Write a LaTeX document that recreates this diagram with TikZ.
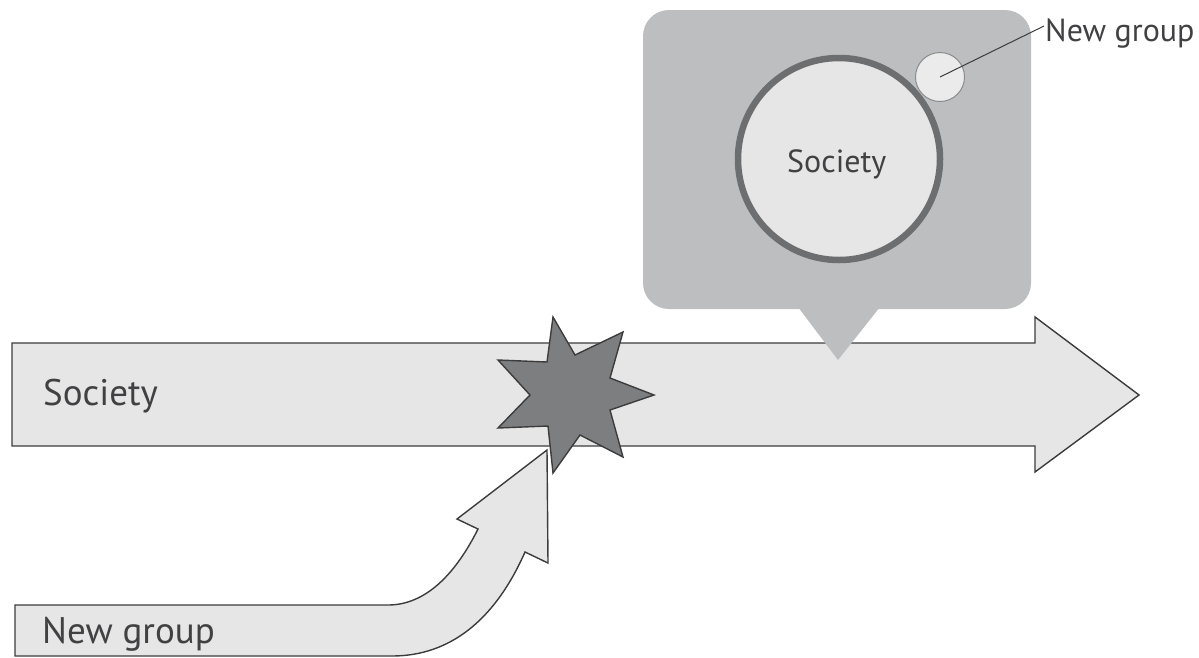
\documentclass[tikz,border=0pt]{standalone}
\usepackage{fontspec}
\setmainfont{PT Sans}
\definecolor{arrowfill}{HTML}{E6E6E6}
\definecolor{edge}{HTML}{3C3C3C}
\definecolor{bubble}{HTML}{BCBEC0}
\definecolor{ring}{HTML}{6D6E70}
\definecolor{starfill}{HTML}{7D7E80}
\definecolor{txt}{HTML}{414042}
\begin{document}
\begin{tikzpicture}[x=1pt,y=-1pt,
  arrowshape/.style={fill=arrowfill,draw=edge,line width=1.4pt,line join=miter},
  lbl/.style={anchor=base west,inner sep=0pt,text=txt},
  big/.style={font=\fontsize{37}{40}\selectfont},
  small/.style={font=\fontsize{32}{36}\selectfont}]
\useasboundingbox (0,0) rectangle (1199,657);
% main arrow
\draw[arrowshape] (12,343) -- (1035,343) -- (1035,317) -- (1139,395) -- (1035,472) -- (1035,446) -- (12,446) -- cycle;
% new group arrow
\draw[arrowshape] (547,450) -- (457,519) -- (478,529)
  .. controls (455,575) and (425,605) .. (388,605) -- (15,605) -- (15,656) -- (392,656)
  .. controls (450,656) and (495,620) .. (525,552) -- (548,563) -- cycle;
% star
\draw[fill=starfill,draw=edge,line width=1.4pt,line join=miter]
  (553,317) -- (575,355) -- (623,332) -- (610,378) -- (654,395) -- (610,410) -- (623,457)
  -- (580,435) -- (553,473) -- (548,426) -- (498,428) -- (530,395) -- (498,360) -- (547,362) -- cycle;
% callout
\fill[bubble,rounded corners=26pt] (643,10) rectangle (1031,309);
\fill[bubble] (798,307) -- (880,307) -- (838,360) -- cycle;
\node[circle,minimum size=202pt,inner sep=0pt,fill=arrowfill,draw=ring,line width=6.5pt] (soc) at (839,159) {};
\node[circle,minimum size=49pt,inner sep=0pt,fill=arrowfill!80!white,draw=ring!80!white,line width=1pt] (ng) at (940,77) {};
\coordinate (lineend) at (1044,26);
\draw[edge,line width=1pt] (ng.center) -- (lineend);
% labels
\node[lbl,big] (t1) at (43,405) {Society};
\node[lbl,big] (t2) at (42,643) {New group};
\node[lbl,small] (t3) at (787,172) {Society};
\node[lbl,small] (t4) at (1045,41) {New group};
\end{tikzpicture}
\end{document}
